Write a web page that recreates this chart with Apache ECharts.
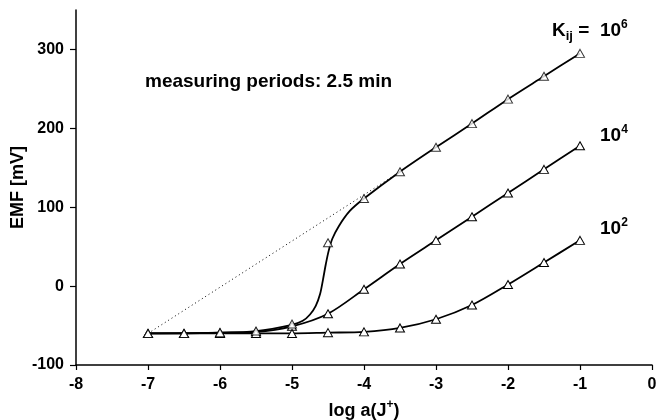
<!DOCTYPE html>
<html>
<head>
<meta charset="utf-8">
<script src="https://cdn.jsdelivr.net/npm/echarts@6/dist/echarts.min.js"></script>
<style>
  html, body { margin: 0; padding: 0; background: #fff; }
  #chart { width: 658px; height: 420px; }
</style>
</head>
<body>
<div id="chart"></div>
<script>
// measured points (log a(J+), EMF in mV)
const logA = [-7, -6.5, -6, -5.5, -5, -4.5, -4, -3.5, -3, -2.5, -2, -1.5, -1];
const emfK6 = [-60, -60, -59, -57, -48, 55, 111, 145, 176, 206, 237, 266, 295];
const emfK4 = [-60, -60, -59, -58, -51, -35, -4, 28, 58, 88, 118, 148, 178];
const emfK2 = [-60, -60, -60, -60, -60, -59, -58, -53, -42, -24, 2, 30, 58];

// fitted curve for K = 10^6
const curveK6X = [-7, -6, -5.5, -5, -4.85, -4.75, -4.67, -4.61, -4.57, -4.53, -4.49, -4.44, -4.35, -4.2, -4, -3.5, -3, -2.5, -2, -1.5, -1];
const curveK6Y = [-60, -59, -57, -49, -44, -36, -25, -10, 8, 28, 45, 60, 76, 95, 111, 145, 176, 206, 237, 266, 295];

// dotted guide line
const guideX = [-7, -3.5];
const guideY = [-60, 145];

const yTicks = [-100, 0, 100, 200, 300];

const zip = (xs, ys) => xs.map((x, i) => [x, ys[i]]);

const chart = echarts.init(document.getElementById('chart'));

const font = '"Liberation Sans", Arial, Helvetica, sans-serif';
const markerStyle = { color: '#fff', borderColor: '#000', borderWidth: 1 };
const supRich = {
  sup: { fontSize: 12, fontWeight: 'bold', fontFamily: font, verticalAlign: 'top', lineHeight: 12 },
  sub: { fontSize: 13, fontWeight: 'bold', fontFamily: font, verticalAlign: 'bottom', lineHeight: 13 }
};

const lineSeries = (data, smooth) => ({
  type: 'line',
  data,
  smooth,
  symbol: 'triangle',
  symbolSize: [9, 8],
  itemStyle: markerStyle,
  lineStyle: { color: '#000', width: 1.8 },
  silent: true
});

const label = (text, x, y) => ({
  type: 'text',
  left: x,
  top: y,
  style: {
    text,
    fill: '#000',
    fontSize: 19,
    fontWeight: 'bold',
    fontFamily: font,
    lineHeight: 24,
    rich: supRich
  }
});

chart.setOption({
  animation: false,
  textStyle: { fontFamily: font },
  grid: { left: 76, right: 6, top: 10, bottom: 55, outerBoundsMode: 'none' },
  xAxis: {
    type: 'value',
    min: -8,
    max: 0,
    interval: 1,
    name: 'log a(J{sup|+})',
    nameLocation: 'middle',
    nameGap: 34,
    nameTextStyle: { fontSize: 18, fontWeight: 'bold', color: '#000', lineHeight: 24, rich: supRich },
    axisLine: { onZero: false, lineStyle: { color: '#000', width: 1.5 } },
    axisTick: { length: 5, lineStyle: { color: '#000', width: 1.2 } },
    axisLabel: { fontSize: 16, fontWeight: 'bold', color: '#000', margin: 12 },
    splitLine: { show: false }
  },
  yAxis: {
    type: 'value',
    min: -100,
    max: 350,
    interval: 100,
    name: 'EMF [mV]',
    nameLocation: 'middle',
    nameGap: 49,
    nameMoveOverlap: false,
    nameTextStyle: { fontSize: 18, fontWeight: 'bold', color: '#000' },
    axisLine: { show: true, onZero: false, lineStyle: { color: '#000', width: 1.5 } },
    axisTick: { show: true, length: 6, customValues: yTicks, lineStyle: { color: '#000', width: 1.2 } },
    axisLabel: { fontSize: 16, fontWeight: 'bold', color: '#000', margin: 12, customValues: yTicks },
    splitLine: { show: false }
  },
  series: [
    {
      type: 'line',
      data: zip(guideX, guideY),
      symbol: 'none',
      lineStyle: { color: '#000', width: 1, type: [1, 3] },
      silent: true,
      z: 1
    },
    {
      type: 'line',
      data: zip(curveK6X, curveK6Y),
      smooth: 0.3,
      symbol: 'none',
      lineStyle: { color: '#000', width: 1.8 },
      silent: true,
      z: 2
    },
    {
      type: 'scatter',
      data: zip(logA, emfK6),
      symbol: 'triangle',
      symbolSize: [9, 8],
      itemStyle: markerStyle,
      silent: true,
      z: 5
    },
    lineSeries(zip(logA, emfK4), 0.3),
    lineSeries(zip(logA, emfK2), 0.3)
  ],
  graphic: [
    {
      type: 'text',
      left: 145,
      top: 72,
      style: { text: 'measuring periods: 2.5 min', fill: '#000', fontSize: 19, fontWeight: 'bold', fontFamily: font }
    },
    label('K{sub|ij} =  10{sup|6}', 552, 19),
    label('10{sup|4}', 600, 124),
    label('10{sup|2}', 600, 217)
  ]
});
</script>
</body>
</html>
